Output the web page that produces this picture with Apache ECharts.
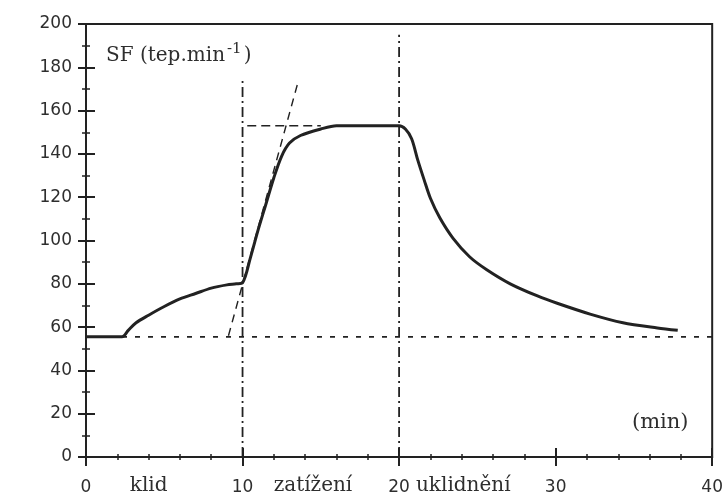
<!DOCTYPE html>
<html>
<head>
<meta charset="utf-8">
<script src="https://cdn.jsdelivr.net/npm/echarts@6/dist/echarts.min.js"></script>
<style>html,body{margin:0;padding:0;background:#fff}#c{width:726px;height:497px}</style>
</head>
<body>
<div id="c"></div>
<script>
// Heart rate curve (time in min, SF in beats/min)
const timeMin = [0, 2.3, 2.7, 3.2, 4, 5, 6, 7, 8, 9, 9.6, 10, 10.5, 11, 11.5, 12, 12.5, 13, 13.7, 15, 16, 18, 20, 20.4, 20.8, 21.2, 21.6, 22, 22.6, 23.45, 24.5, 25.6, 27.1, 28.8, 30.1, 32.2, 34.3, 36.5, 37.8];
const heartRate = [55.5, 55.5, 58.5, 62, 65.5, 69.5, 73, 75.5, 78, 79.5, 80, 80.5, 92, 105, 117, 129, 139, 145, 148.5, 151.5, 153, 153, 153, 151.5, 147, 137, 128, 119.5, 110.5, 101, 92.5, 86.5, 80, 74.5, 71, 66, 62, 59.6, 58.5];

// Reference lines
const restLevelLine = [[2.3, 55.5], [40, 55.5]];
const loadStartLine = [[10, 0], [10, 175]];
const loadEndLine = [[20, 0], [20, 195]];
const steadyStateLine = [[10.3, 153], [15, 153]];
const tangentLine = [[9.1, 56], [13.5, 172]];

// Axes and labels
const xMin = 0, xMax = 40, xStep = 10;
const yMin = 0, yMax = 200, yStep = 20;
const phaseNames = ['klid', 'zatížení', 'uklidnění'];
const phaseCenters = [4, 14.5, 24.1];
const yTitle = 'SF (tep.min';
const ySup = '-1';
const xUnit = '(min)';

const ink = '#222';
const txt = '#2e2e2e';
const serif = '"DejaVu Serif", serif';
const sans = '"DejaVu Sans", sans-serif';

const curve = timeMin.map((t, i) => [t, heartRate[i]]);

const chart = echarts.init(document.getElementById('c'), null, {renderer: 'canvas'});

function refSeries(data, dash, w) {
  return {
    type: 'line', data: data, symbol: 'none', silent: true,
    xAxisIndex: 0, yAxisIndex: 0,
    lineStyle: {color: ink, width: w || 1.6, type: dash}
  };
}

chart.setOption({
  animation: false,
  backgroundColor: '#fff',
  grid: {left: 86, right: 13, top: 24, bottom: 40, show: true, borderColor: ink, borderWidth: 2, backgroundColor: 'transparent'},
  xAxis: [
    {
      type: 'value', min: xMin, max: xMax, interval: xStep, position: 'bottom',
      axisLine: {show: true, lineStyle: {color: ink, width: 2}},
      axisTick: {show: true, inside: false, length: 9, lineStyle: {color: ink, width: 2}},
      minorTick: {show: true, splitNumber: 5, length: 3, lineStyle: {color: ink, width: 1.5}},
      splitLine: {show: false},
      axisLabel: {color: txt, fontFamily: sans, fontSize: 17, margin: 22}
    },
    {
      type: 'value', min: xMin, max: xMax, interval: xStep, position: 'bottom',
      axisLine: {show: false},
      axisTick: {show: true, inside: true, length: 9, lineStyle: {color: ink, width: 2}},
      minorTick: {show: true, splitNumber: 5, length: 3, lineStyle: {color: ink, width: 1.5}},
      splitLine: {show: false},
      axisLabel: {
        show: true, color: txt, fontFamily: serif, fontSize: 20, margin: 19,
        customValues: phaseCenters,
        formatter: function (v) {
          const i = phaseCenters.indexOf(v);
          return i >= 0 ? phaseNames[i] : '';
        }
      }
    }
  ],
  yAxis: [
    {
      type: 'value', min: yMin, max: yMax, interval: yStep, position: 'left',
      axisLine: {show: true, lineStyle: {color: ink, width: 2}},
      axisTick: {show: true, inside: false, length: 8, lineStyle: {color: ink, width: 2}},
      minorTick: {show: true, splitNumber: 2, length: 4, lineStyle: {color: ink, width: 1.5}},
      splitLine: {show: false},
      axisLabel: {color: txt, fontFamily: sans, fontSize: 17, margin: 14}
    },
    {
      type: 'value', min: yMin, max: yMax, interval: yStep, position: 'left',
      axisLine: {show: false},
      axisTick: {show: true, inside: true, length: 9, lineStyle: {color: ink, width: 2}},
      minorTick: {show: true, splitNumber: 2, length: 4, lineStyle: {color: ink, width: 1.5}},
      splitLine: {show: false},
      axisLabel: {show: false}
    }
  ],
  graphic: [
    {
      type: 'text', left: 106, top: 42,
      style: {
        text: '{a|' + yTitle + '}{s|' + ySup + '}{a|)}',
        rich: {
          a: {fontFamily: serif, fontSize: 20, fill: txt, lineHeight: 24, verticalAlign: 'bottom'},
          s: {fontFamily: serif, fontSize: 15, fill: txt, lineHeight: 24, padding: [0, 2, 9, 2], verticalAlign: 'bottom'}
        }
      }
    },
    {
      type: 'text', left: 632, top: 412,
      style: {text: xUnit, fontFamily: serif, fontSize: 21, fill: txt}
    }
  ],
  series: [
    refSeries(restLevelLine, [5, 8], 1.8),
    refSeries(loadStartLine, [10, 4, 2, 4], 1.8),
    refSeries(loadEndLine, [10, 4, 2, 4], 1.8),
    refSeries(steadyStateLine, [9, 5], 1.6),
    refSeries(tangentLine, [8, 6], 1.4),
    {
      type: 'line', data: curve, symbol: 'none', smooth: 0.3,
      xAxisIndex: 0, yAxisIndex: 0,
      lineStyle: {color: ink, width: 3}
    }
  ]
});
</script>
</body>
</html>
